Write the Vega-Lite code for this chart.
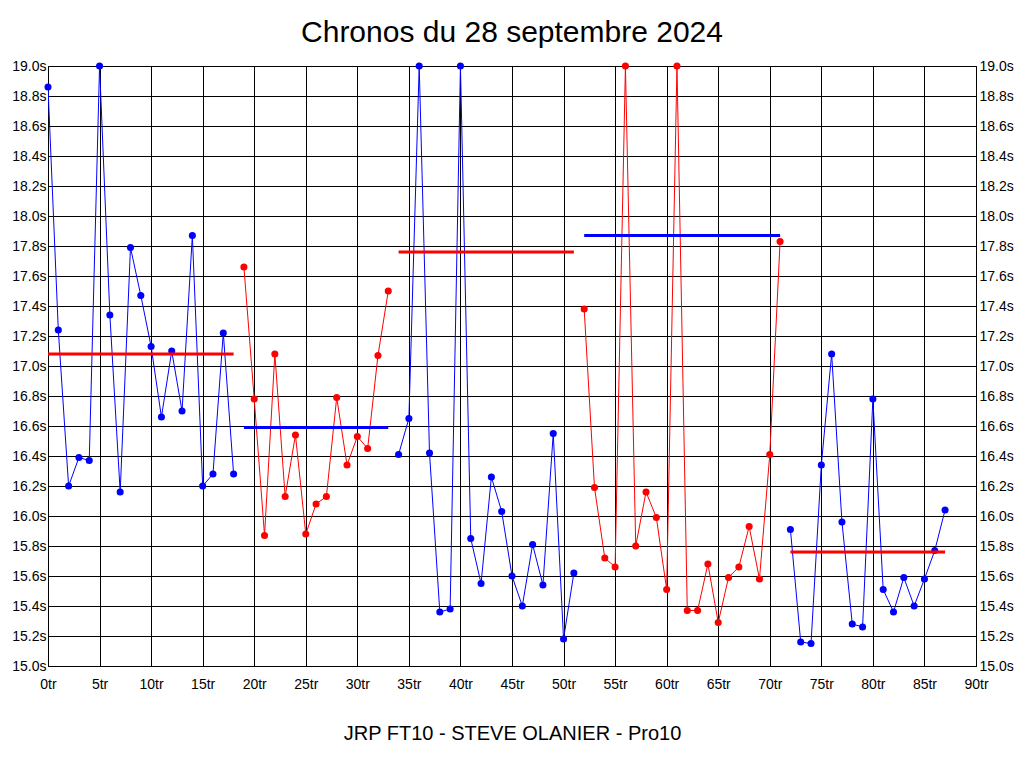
{
  "$schema": "https://vega.github.io/schema/vega-lite/v6.json",
  "description": "Chronos du 28 septembre 2024, temps au tour par relais avec moyennes.",
  "width": 928,
  "height": 600,
  "autosize": {"type": "none"},
  "padding": {"left": 48, "top": 66, "right": 48, "bottom": 102},
  "background": "white",
  "title": {
    "text": "Chronos du 28 septembre 2024",
    "font": "Liberation Sans",
    "fontSize": 30,
    "fontWeight": "normal",
    "color": "black",
    "anchor": "middle",
    "offset": 11
  },
  "config": {
    "view": {"stroke": "black", "strokeWidth": 1},
    "axis": {
      "labelFont": "Liberation Sans",
      "labelFontSize": 14,
      "labelColor": "black",
      "labelFlush": false,
      "titleFont": "Liberation Sans",
      "titleColor": "black",
      "domain": false,
      "ticks": false
    }
  },
  "datasets": {
    "chronos": [
      {"tour": 0, "temps": 18.86, "relais": 1, "couleur": "bleu"},
      {"tour": 1, "temps": 17.24, "relais": 1, "couleur": "bleu"},
      {"tour": 2, "temps": 16.2, "relais": 1, "couleur": "bleu"},
      {"tour": 3, "temps": 16.39, "relais": 1, "couleur": "bleu"},
      {"tour": 4, "temps": 16.37, "relais": 1, "couleur": "bleu"},
      {"tour": 5, "temps": 19.0, "relais": 1, "couleur": "bleu"},
      {"tour": 6, "temps": 17.34, "relais": 1, "couleur": "bleu"},
      {"tour": 7, "temps": 16.16, "relais": 1, "couleur": "bleu"},
      {"tour": 8, "temps": 17.79, "relais": 1, "couleur": "bleu"},
      {"tour": 9, "temps": 17.47, "relais": 1, "couleur": "bleu"},
      {"tour": 10, "temps": 17.13, "relais": 1, "couleur": "bleu"},
      {"tour": 11, "temps": 16.66, "relais": 1, "couleur": "bleu"},
      {"tour": 12, "temps": 17.1, "relais": 1, "couleur": "bleu"},
      {"tour": 13, "temps": 16.7, "relais": 1, "couleur": "bleu"},
      {"tour": 14, "temps": 17.87, "relais": 1, "couleur": "bleu"},
      {"tour": 15, "temps": 16.2, "relais": 1, "couleur": "bleu"},
      {"tour": 16, "temps": 16.28, "relais": 1, "couleur": "bleu"},
      {"tour": 17, "temps": 17.22, "relais": 1, "couleur": "bleu"},
      {"tour": 18, "temps": 16.28, "relais": 1, "couleur": "bleu"},
      {"tour": 19, "temps": 17.66, "relais": 2, "couleur": "rouge"},
      {"tour": 20, "temps": 16.78, "relais": 2, "couleur": "rouge"},
      {"tour": 21, "temps": 15.87, "relais": 2, "couleur": "rouge"},
      {"tour": 22, "temps": 17.08, "relais": 2, "couleur": "rouge"},
      {"tour": 23, "temps": 16.13, "relais": 2, "couleur": "rouge"},
      {"tour": 24, "temps": 16.54, "relais": 2, "couleur": "rouge"},
      {"tour": 25, "temps": 15.88, "relais": 2, "couleur": "rouge"},
      {"tour": 26, "temps": 16.08, "relais": 2, "couleur": "rouge"},
      {"tour": 27, "temps": 16.13, "relais": 2, "couleur": "rouge"},
      {"tour": 28, "temps": 16.79, "relais": 2, "couleur": "rouge"},
      {"tour": 29, "temps": 16.34, "relais": 2, "couleur": "rouge"},
      {"tour": 30, "temps": 16.53, "relais": 2, "couleur": "rouge"},
      {"tour": 31, "temps": 16.45, "relais": 2, "couleur": "rouge"},
      {"tour": 32, "temps": 17.07, "relais": 2, "couleur": "rouge"},
      {"tour": 33, "temps": 17.5, "relais": 2, "couleur": "rouge"},
      {"tour": 34, "temps": 16.41, "relais": 3, "couleur": "bleu"},
      {"tour": 35, "temps": 16.65, "relais": 3, "couleur": "bleu"},
      {"tour": 36, "temps": 19.0, "relais": 3, "couleur": "bleu"},
      {"tour": 37, "temps": 16.42, "relais": 3, "couleur": "bleu"},
      {"tour": 38, "temps": 15.36, "relais": 3, "couleur": "bleu"},
      {"tour": 39, "temps": 15.38, "relais": 3, "couleur": "bleu"},
      {"tour": 40, "temps": 19.0, "relais": 3, "couleur": "bleu"},
      {"tour": 41, "temps": 15.85, "relais": 3, "couleur": "bleu"},
      {"tour": 42, "temps": 15.55, "relais": 3, "couleur": "bleu"},
      {"tour": 43, "temps": 16.26, "relais": 3, "couleur": "bleu"},
      {"tour": 44, "temps": 16.03, "relais": 3, "couleur": "bleu"},
      {"tour": 45, "temps": 15.6, "relais": 3, "couleur": "bleu"},
      {"tour": 46, "temps": 15.4, "relais": 3, "couleur": "bleu"},
      {"tour": 47, "temps": 15.81, "relais": 3, "couleur": "bleu"},
      {"tour": 48, "temps": 15.54, "relais": 3, "couleur": "bleu"},
      {"tour": 49, "temps": 16.55, "relais": 3, "couleur": "bleu"},
      {"tour": 50, "temps": 15.18, "relais": 3, "couleur": "bleu"},
      {"tour": 51, "temps": 15.62, "relais": 3, "couleur": "bleu"},
      {"tour": 52, "temps": 17.38, "relais": 4, "couleur": "rouge"},
      {"tour": 53, "temps": 16.19, "relais": 4, "couleur": "rouge"},
      {"tour": 54, "temps": 15.72, "relais": 4, "couleur": "rouge"},
      {"tour": 55, "temps": 15.66, "relais": 4, "couleur": "rouge"},
      {"tour": 56, "temps": 19.0, "relais": 4, "couleur": "rouge"},
      {"tour": 57, "temps": 15.8, "relais": 4, "couleur": "rouge"},
      {"tour": 58, "temps": 16.16, "relais": 4, "couleur": "rouge"},
      {"tour": 59, "temps": 15.99, "relais": 4, "couleur": "rouge"},
      {"tour": 60, "temps": 15.51, "relais": 4, "couleur": "rouge"},
      {"tour": 61, "temps": 19.0, "relais": 4, "couleur": "rouge"},
      {"tour": 62, "temps": 15.37, "relais": 4, "couleur": "rouge"},
      {"tour": 63, "temps": 15.37, "relais": 4, "couleur": "rouge"},
      {"tour": 64, "temps": 15.68, "relais": 4, "couleur": "rouge"},
      {"tour": 65, "temps": 15.29, "relais": 4, "couleur": "rouge"},
      {"tour": 66, "temps": 15.59, "relais": 4, "couleur": "rouge"},
      {"tour": 67, "temps": 15.66, "relais": 4, "couleur": "rouge"},
      {"tour": 68, "temps": 15.93, "relais": 4, "couleur": "rouge"},
      {"tour": 69, "temps": 15.58, "relais": 4, "couleur": "rouge"},
      {"tour": 70, "temps": 16.41, "relais": 4, "couleur": "rouge"},
      {"tour": 71, "temps": 17.83, "relais": 4, "couleur": "rouge"},
      {"tour": 72, "temps": 15.91, "relais": 5, "couleur": "bleu"},
      {"tour": 73, "temps": 15.16, "relais": 5, "couleur": "bleu"},
      {"tour": 74, "temps": 15.15, "relais": 5, "couleur": "bleu"},
      {"tour": 75, "temps": 16.34, "relais": 5, "couleur": "bleu"},
      {"tour": 76, "temps": 17.08, "relais": 5, "couleur": "bleu"},
      {"tour": 77, "temps": 15.96, "relais": 5, "couleur": "bleu"},
      {"tour": 78, "temps": 15.28, "relais": 5, "couleur": "bleu"},
      {"tour": 79, "temps": 15.26, "relais": 5, "couleur": "bleu"},
      {"tour": 80, "temps": 16.78, "relais": 5, "couleur": "bleu"},
      {"tour": 81, "temps": 15.51, "relais": 5, "couleur": "bleu"},
      {"tour": 82, "temps": 15.36, "relais": 5, "couleur": "bleu"},
      {"tour": 83, "temps": 15.59, "relais": 5, "couleur": "bleu"},
      {"tour": 84, "temps": 15.4, "relais": 5, "couleur": "bleu"},
      {"tour": 85, "temps": 15.58, "relais": 5, "couleur": "bleu"},
      {"tour": 86, "temps": 15.77, "relais": 5, "couleur": "bleu"},
      {"tour": 87, "temps": 16.04, "relais": 5, "couleur": "bleu"}
    ],
    "moyennes": [
      {"debut": 0, "fin": 18, "moyenne": 17.08, "couleur": "rouge"},
      {"debut": 19, "fin": 33, "moyenne": 16.59, "couleur": "bleu"},
      {"debut": 34, "fin": 51, "moyenne": 17.76, "couleur": "rouge"},
      {"debut": 52, "fin": 71, "moyenne": 17.87, "couleur": "bleu"},
      {"debut": 72, "fin": 87, "moyenne": 15.76, "couleur": "rouge"}
    ]
  },
  "layer": [
    {
      "data": {"name": "chronos"},
      "mark": {"type": "line", "strokeWidth": 1, "clip": true},
      "encoding": {
        "x": {
          "field": "tour",
          "type": "quantitative",
          "scale": {"domain": [0, 90], "nice": false, "zero": false},
          "axis": {
            "values": [0, 5, 10, 15, 20, 25, 30, 35, 40, 45, 50, 55, 60, 65, 70, 75, 80, 85, 90],
            "labelExpr": "datum.value + 'tr'",
            "labelPadding": 11,
            "grid": true,
            "gridColor": "black",
            "gridOpacity": 1,
            "title": "JRP FT10 - STEVE OLANIER - Pro10",
            "titleFontSize": 20,
            "titleFontWeight": "normal",
            "titlePadding": 32
          }
        },
        "y": {
          "field": "temps",
          "type": "quantitative",
          "scale": {"domain": [15, 19], "nice": false, "zero": false},
          "axis": {
            "orient": "left",
            "values": [15, 15.2, 15.4, 15.6, 15.8, 16, 16.2, 16.4, 16.6, 16.8, 17, 17.2, 17.4, 17.6, 17.8, 18, 18.2, 18.4, 18.6, 18.8, 19],
            "labelExpr": "format(datum.value, '.1f') + 's'",
            "labelPadding": 2,
            "grid": true,
            "gridColor": "black",
            "gridOpacity": 1,
            "title": null
          }
        },
        "color": {
          "field": "couleur",
          "type": "nominal",
          "scale": {"domain": ["bleu", "rouge"], "range": ["#0000ff", "#ff0000"]},
          "legend": null
        },
        "detail": {"field": "relais", "type": "nominal"}
      }
    },
    {
      "data": {"name": "chronos"},
      "mark": {"type": "circle", "size": 50, "opacity": 1},
      "encoding": {
        "x": {"field": "tour", "type": "quantitative"},
        "y": {
          "field": "temps",
          "type": "quantitative",
          "scale": {"domain": [15, 19], "nice": false, "zero": false},
          "axis": {
            "orient": "right",
            "values": [15, 15.2, 15.4, 15.6, 15.8, 16, 16.2, 16.4, 16.6, 16.8, 17, 17.2, 17.4, 17.6, 17.8, 18, 18.2, 18.4, 18.6, 18.8, 19],
            "labelExpr": "format(datum.value, '.1f') + 's'",
            "labelPadding": 3,
            "grid": false,
            "title": null
          }
        },
        "color": {"field": "couleur", "type": "nominal", "legend": null}
      }
    },
    {
      "data": {"name": "moyennes"},
      "mark": {"type": "rule", "strokeWidth": 3},
      "encoding": {
        "x": {"field": "debut", "type": "quantitative"},
        "x2": {"field": "fin"},
        "y": {"field": "moyenne", "type": "quantitative", "axis": null},
        "color": {"field": "couleur", "type": "nominal", "legend": null}
      }
    }
  ],
  "resolve": {"axis": {"y": "independent"}}
}
